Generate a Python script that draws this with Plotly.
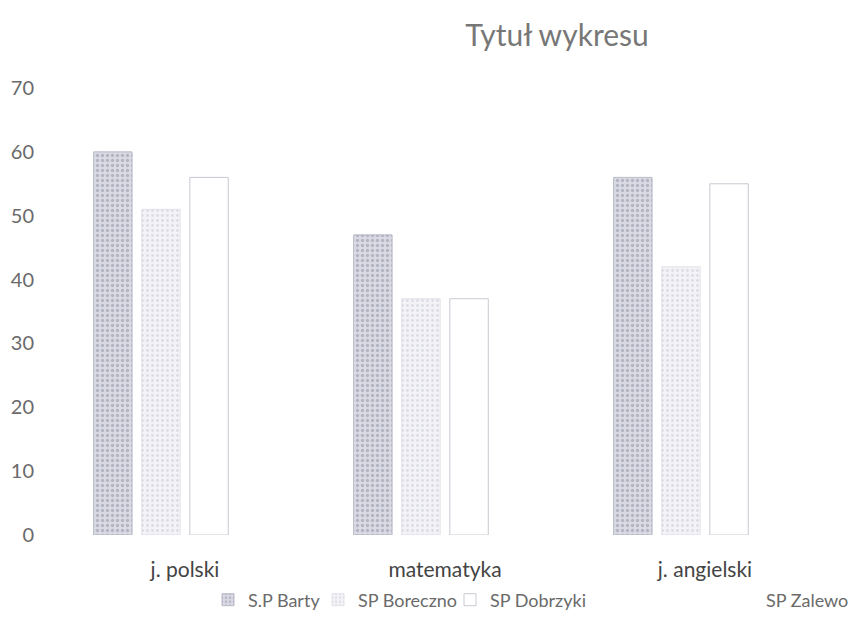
import plotly.graph_objects as go

categories = ["j. polski", "matematyka", "j. angielski"]
sp_barty = [60, 47, 56]
sp_boreczno = [51, 37, 42]
sp_dobrzyki = [56, 37, 55]
sp_zalewo = [36, 54, 16]
series_names = ["S.P Barty", "SP Boreczno", "SP Dobrzyki", "SP Zalewo"]
y_ticks = [0, 10, 20, 30, 40, 50, 60, 70]

FONT = "Lato, Open Sans, sans-serif"
TXT = "#6a6a6a"

# page body has an 8px margin; figure is sized so it fits the 858x631 window
OFF = 8
W, H = 858 - OFF, 631 - OFF

styles = [
    dict(color="#cfd0dc", line=dict(color="#b9bbc8", width=1),
         pattern=dict(shape=".", fgcolor="#8e90a0", bgcolor="#d9dae4", size=5, solidity=0.35)),
    dict(color="#eeeef3", line=dict(color="#e2e2ea", width=1),
         pattern=dict(shape=".", fgcolor="#c4c5d0", bgcolor="#f3f3f7", size=5, solidity=0.25)),
    dict(color="#ffffff", line=dict(color="#c9c9d2", width=1)),
    dict(color="#ffffff", line=dict(color="#ffffff", width=0)),
]
data = [sp_barty, sp_boreczno, sp_dobrzyki, sp_zalewo]
legends = ["legend", "legend2", "legend3", "legend4"]

fig = go.Figure()
for name, vals, st, lg in zip(series_names, data, styles, legends):
    fig.add_trace(go.Bar(x=categories, y=vals, name=name, marker=st, legend=lg))

leg_common = dict(orientation="h", yanchor="middle", xanchor="left", yref="container",
                  xref="container", font=dict(family=FONT, size=18, color=TXT),
                  bgcolor="rgba(0,0,0,0)", itemwidth=30)
leg_x = [200, 310, 442, 718]
layout_legs = {}
for lg, lx in zip(legends, leg_x):
    layout_legs[lg] = dict(leg_common, x=lx / W, y=1 - 592 / H)

fig.update_layout(
    width=W, height=H,
    paper_bgcolor="white", plot_bgcolor="white",
    margin=dict(l=47, r=23, t=80, b=96),
    barmode="group", bargap=0.26, bargroupgap=0.2,
    title=dict(text="Tytuł wykresu", x=549 / W, xanchor="center", xref="container",
               y=1 - 27 / H, yref="container", yanchor="middle",
               font=dict(family=FONT, size=30, color="#777777")),
    showlegend=True,
    **layout_legs,
)
fig.update_yaxes(range=[0, 70], tickvals=y_ticks, showgrid=False, zeroline=False,
                 showline=False, ticks="", ticklabelstandoff=20, automargin=False,
                 tickfont=dict(family=FONT, size=20, color=TXT))
fig.update_xaxes(showgrid=False, showline=False, ticks="", ticklabelstandoff=20,
                 automargin=False,
                 tickfont=dict(family=FONT, size=21, color="#444444"))

fig.write_html("out.html")
